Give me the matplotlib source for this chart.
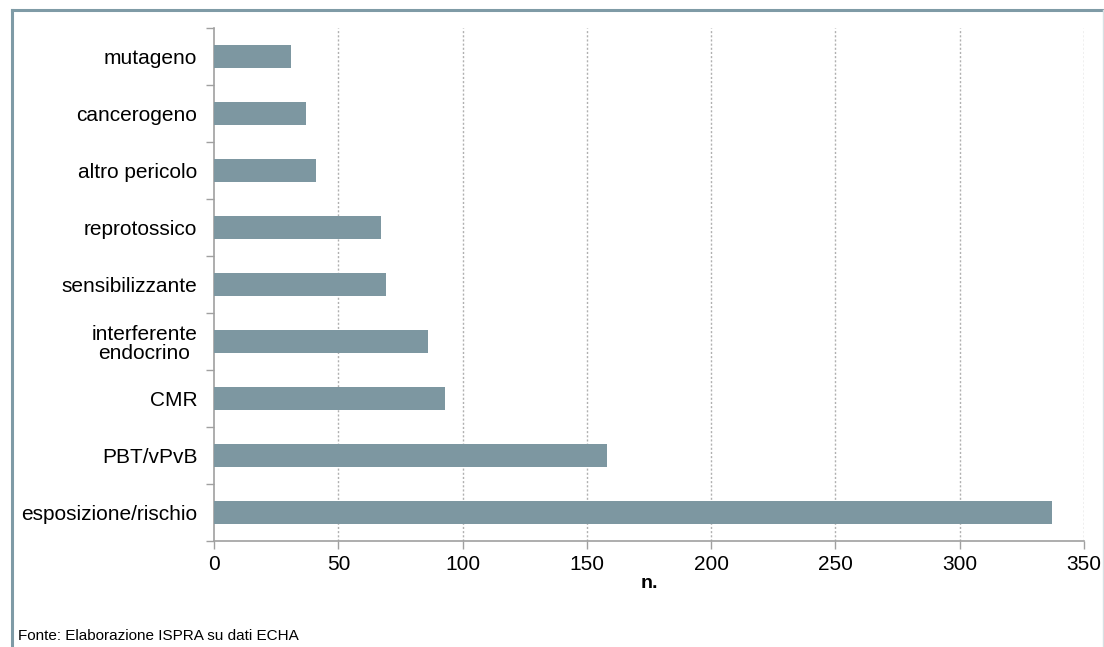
import numpy as np
import matplotlib.pyplot as plt
from matplotlib.lines import Line2D
from matplotlib import font_manager

# categories from bottom to top
categorie = ['esposizione/rischio', 'PBT/vPvB', 'CMR', 'interferente\nendocrino',
             'sensibilizzante', 'reprotossico', 'altro pericolo', 'cancerogeno', 'mutageno']
valori = [337, 158, 93, 86, 69, 67, 41, 37, 31]
xticks = [0, 50, 100, 150, 200, 250, 300, 350]

plt.rcParams['font.family'] = ['Liberation Sans', 'DejaVu Sans']

fig = plt.figure(figsize=(11.04, 6.47), dpi=100)
ax = fig.add_axes([0.1939, 0.1638, 0.7880, 0.7929])

y = np.arange(len(categorie))
ax.barh(y, valori, height=0.4, color='#7d97a1', zorder=3)

ax.set_xlim(0, 350)
ax.set_ylim(-0.5, len(categorie) - 0.5)
ax.set_xticks(xticks)
ax.set_xticklabels([str(v) for v in xticks], fontsize=15)
ax.set_yticks(y)
ax.set_yticklabels(categorie, fontsize=15, multialignment='center', linespacing=1.0)
# y tick marks sit between categories
ax.set_yticks(np.arange(len(categorie) + 1) - 0.5, minor=True)
ax.tick_params(axis='y', which='major', length=0, pad=12)
ax.tick_params(axis='y', which='minor', length=6, color='#a0a0a0', width=1)
ax.tick_params(axis='x', length=6, color='#a0a0a0', width=1, pad=4)

for s in ['top', 'right']:
    ax.spines[s].set_visible(False)
for s in ['left', 'bottom']:
    ax.spines[s].set_color('#a0a0a0')
    ax.spines[s].set_linewidth(1.2)

for v in xticks[1:]:
    ax.axvline(v, color='#b0b0b0', linestyle=(0, (1.5, 1.5)), linewidth=1, zorder=1)

ax.set_xlabel('n.', fontsize=14, fontweight='bold', labelpad=1)

names = {f.name for f in font_manager.fontManager.ttflist}
if 'Liberation Sans Narrow' in names:
    fonte_font, fonte_size = 'Liberation Sans Narrow', 14
else:
    fonte_font, fonte_size = 'Liberation Sans', 11
fig.text(18 / 1104, 1 - 636 / 647, 'Fonte: Elaborazione ISPRA su dati ECHA',
         fontsize=fonte_size, family=[fonte_font, 'DejaVu Sans'],
         va='center', ha='left')

# frame around the figure
frame = '#7f9ba6'
fig.add_artist(Line2D([12 / 1104, 12 / 1104], [0, 1 - 10 / 647], color=frame, lw=2.2))
fig.add_artist(Line2D([12 / 1104, 1103 / 1104], [1 - 10 / 647, 1 - 10 / 647], color=frame, lw=2.2))
fig.add_artist(Line2D([1103 / 1104, 1103 / 1104], [0, 1 - 10 / 647], color='#d8e0e3', lw=1))

fig.savefig('out.png', dpi=100)
